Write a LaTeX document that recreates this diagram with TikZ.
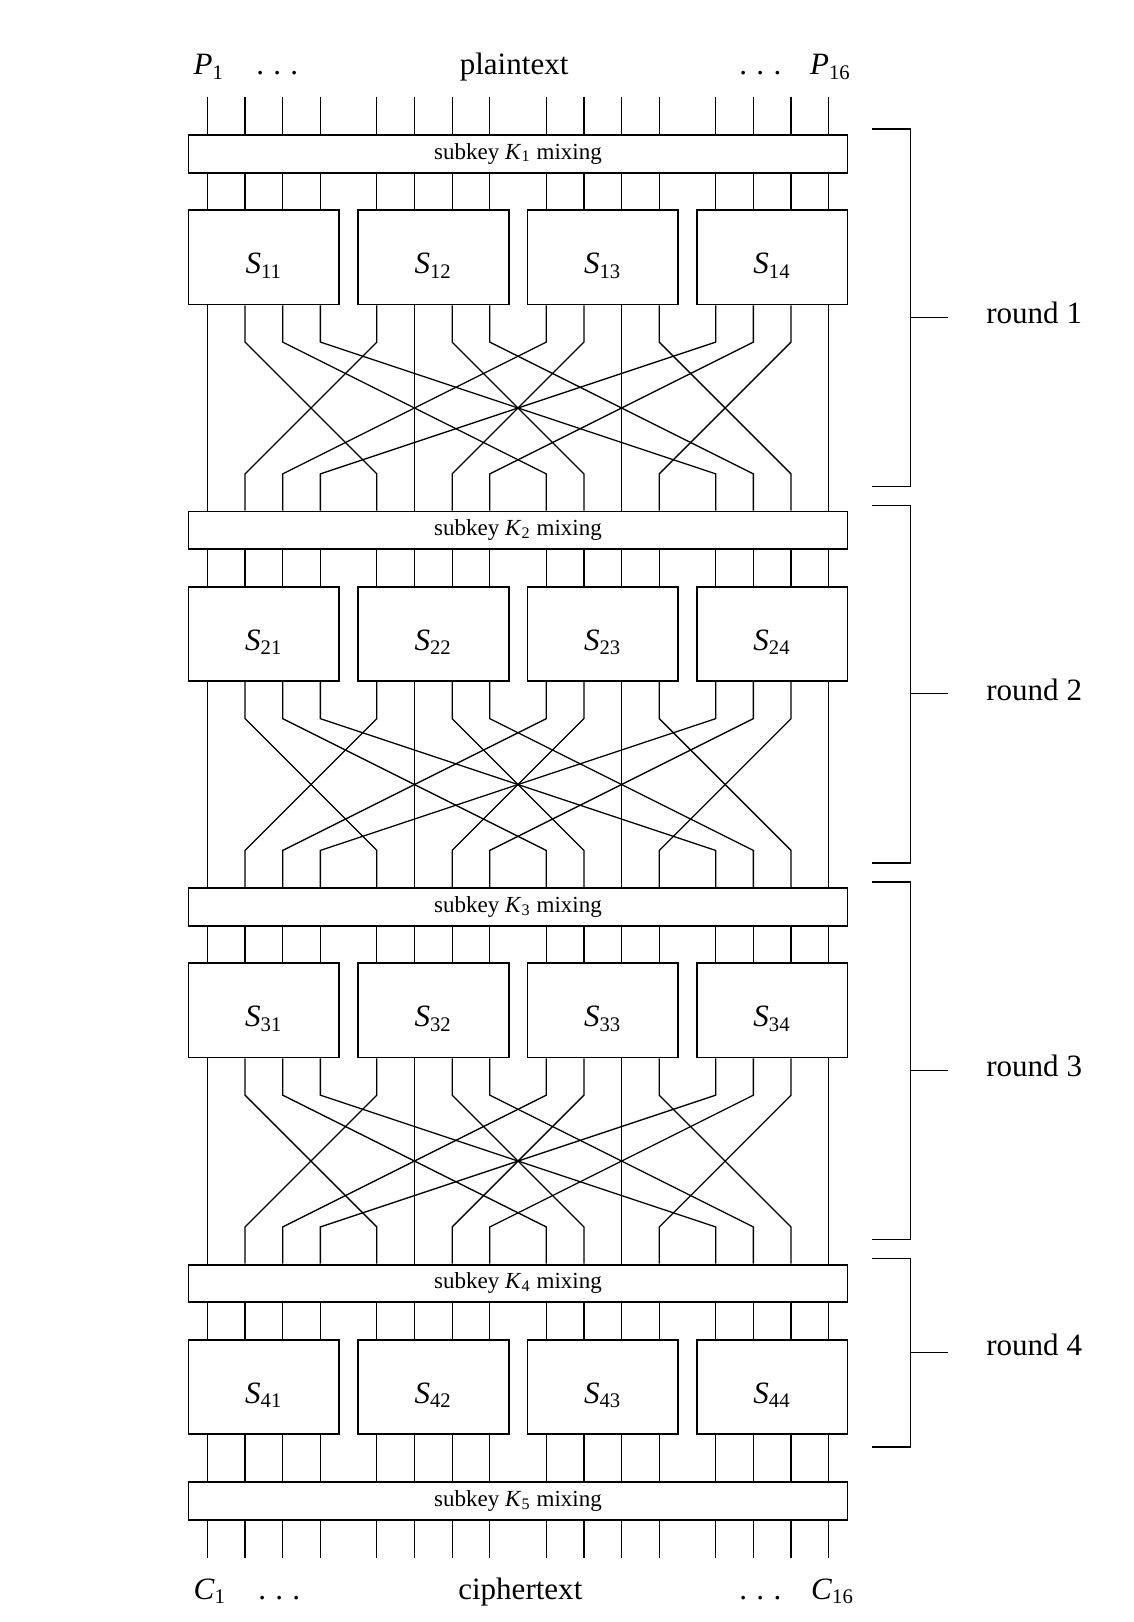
\documentclass[tikz,border=0pt]{standalone}
\usepackage{fontspec}
\setmainfont{Liberation Serif}
\usepackage{tikz}
\usetikzlibrary{positioning, calc}

\newcommand{\spaceddots}{.\kern0.3em.\kern0.3em.}

\begin{document}
\begin{tikzpicture}[x=0.4pt, y=-0.4pt,
  every node/.style={font=\fontsize{12}{14}\selectfont, inner sep=0pt},
  wire/.style={line width=0.5pt},
  mixbox/.style={draw, line width=0.7pt, minimum width=254.8pt, minimum height=14.56pt,
    font=\fontsize{8.9}{10}\selectfont},
  sbox/.style={draw, line width=0.7pt, minimum width=58.24pt, minimum height=36.4pt,
    text height=15pt, text depth=2.5pt},
  roundlabel/.style={anchor=west}]
\useasboundingbox (0,0) rectangle (1096,1568);

% Key mixing and S-boxes of each round
\foreach \rd in {1,...,4} {
    \pgfmathsetmacro{\yt}{130.5+364*(\rd-1)}
    \node[mixbox] (k\rd) at (500.8,\yt+18.2) {subkey \textit{K}\textsubscript{\rd} mixing};
    \foreach \bx in {1,...,4}
        \node[sbox] (s\rd\bx) at ({200.5+36.4*(4.5*\bx-3)},\yt+118.3) {\textit{S}\textsubscript{\rd\bx}};
}
\node[mixbox] (k5) at (500.8,1451.2) {subkey \textit{K}\textsubscript{5} mixing};

% Straight wires
\foreach \w in {0,...,15} {
    \pgfmathtruncatemacro{\grp}{floor(\w/4)+1}
    \pgfmathsetmacro{\xin}{200.5+36.4*(\w+0.5*floor(\w/4))}
    \draw[wire] (\xin,93.4) -- (\xin,0 |- k1.north);
    \foreach \rd in {1,...,4}
        \draw[wire] (\xin,0 |- k\rd.south) -- (\xin,0 |- s\rd\grp.north);
    \draw[wire] (\xin,0 |- s4\grp.south) -- (\xin,0 |- k5.north);
    \draw[wire] (\xin,0 |- k5.south) -- (\xin,1506);
}

% Permutation between rounds
\foreach \rd in {1,2,3} {
    \pgfmathsetmacro{\yt}{130.5+364*(\rd-1)}
    \pgfmathtruncatemacro{\nx}{\rd+1}
    \foreach \w in {0,...,15} {
        \pgfmathtruncatemacro{\grp}{floor(\w/4)+1}
        \pgfmathtruncatemacro{\dst}{4*mod(\w,4)+floor(\w/4)}
        \pgfmathsetmacro{\xin}{200.5+36.4*(\w+0.5*floor(\w/4))}
        \pgfmathsetmacro{\xout}{200.5+36.4*(\dst+0.5*floor(\dst/4))}
        \draw[wire] (\xin,0 |- s\rd\grp.south) -- (\xin,\yt+200.2)
            -- (\xout,\yt+327.6) -- (\xout,0 |- k\nx.north);
    }
}

% Round brackets
\foreach \rd in {1,2,3} {
    \pgfmathsetmacro{\yb}{124.7+364*(\rd-1)}
    \draw[wire] (843,\yb) -- (880,\yb) -- (880,\yb+345.5) -- (843,\yb+345.5);
    \coordinate (b\rd) at (880,\yb+182);
    \draw[wire] (b\rd) -- ++(36.5,0);
    \node[roundlabel] (round\rd) at (953,\yb+178) {round \rd};
}
\draw[wire] (843,1216.8) -- (880,1216.8) -- (880,1398.8) -- (843,1398.8);
\coordinate (b4) at (880,1307.3);
\draw[wire] (b4) -- ++(36.5,0);
\node[roundlabel] (round4) at (953,1300.5) {round 4};

% Plaintext and ciphertext
\node[anchor=base] (p1) at (202,72) {\textit{P}\textsubscript{1}};
\node[anchor=base] (pdots1) at (268,72) {\spaceddots};
\node[anchor=base] (ptext) at (497,72) {plaintext};
\node[anchor=base] (pdots2) at (735,72) {\spaceddots};
\node[anchor=base] (p16) at (803,72) {\textit{P}\textsubscript{16}};

\node[anchor=base] (c1) at (203,1546) {\textit{C}\textsubscript{1}};
\node[anchor=base] (cdots1) at (270,1546) {\spaceddots};
\node[anchor=base] (ctext) at (503,1546) {ciphertext};
\node[anchor=base] (cdots2) at (735,1546) {\spaceddots};
\node[anchor=base] (c16) at (805,1546) {\textit{C}\textsubscript{16}};

\end{tikzpicture}
\end{document}
